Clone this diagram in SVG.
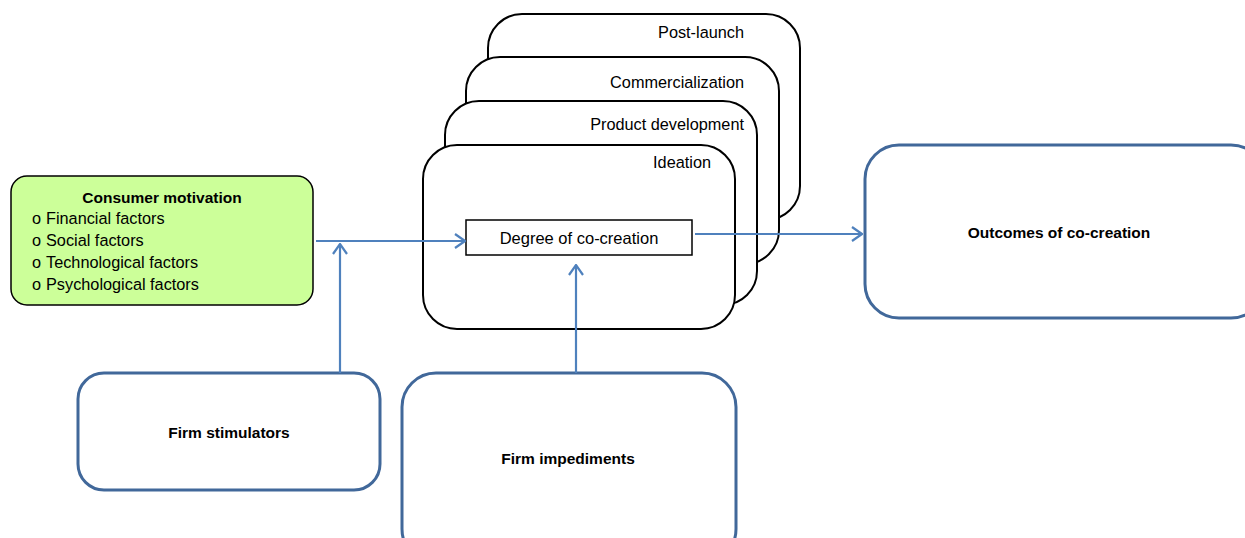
<svg xmlns="http://www.w3.org/2000/svg" width="1245" height="538" viewBox="0 0 1245 538">
<style>
text{font-family:"Liberation Sans",Arial,sans-serif;fill:#000}
.stage{fill:#fff;stroke:#000;stroke-width:2}
.blue{fill:#fff;stroke:#41689a;stroke-width:3}
.lbl{font-size:16.3px;text-anchor:end}
.bold{font-size:15.5px;font-weight:bold;text-anchor:middle}
.item{font-size:16.3px}
.conn{fill:none;stroke:#4f81bd;stroke-width:2.2}
</style>
<defs>
<marker id="arr" markerWidth="12" markerHeight="16" refX="11" refY="8" orient="auto" markerUnits="userSpaceOnUse">
<path d="M1,1 L11,8 L1,15" fill="none" stroke="#4f81bd" stroke-width="2.2"/>
</marker>
</defs>
<rect width="1245" height="538" fill="#fff"/>
<g id="post-launch">
<rect class="stage" x="488" y="14" width="312" height="206" rx="34"/>
<text class="lbl" x="744" y="38">Post-launch</text>
</g>
<g id="commercialization">
<rect class="stage" x="466" y="57" width="313" height="207" rx="34"/>
<text class="lbl" x="744" y="88">Commercialization</text>
</g>
<g id="product-development">
<rect class="stage" x="445" y="101" width="312" height="204" rx="34"/>
<text class="lbl" x="744" y="130">Product development</text>
</g>
<g id="ideation">
<rect class="stage" x="423" y="145" width="312" height="184" rx="34"/>
<text class="lbl" x="711" y="168">Ideation</text>
</g>
<g id="degree">
<rect x="466" y="220" width="226" height="35" fill="#fff" stroke="#000" stroke-width="1.5"/>
<text x="579" y="244" font-size="16.5" text-anchor="middle">Degree of co-creation</text>
</g>
<g id="consumer-motivation">
<rect x="11" y="176" width="302" height="129" rx="16" fill="#ccff99" stroke="#000" stroke-width="1.5"/>
<text class="bold" x="162" y="203">Consumer motivation</text>
<text class="item" y="224"><tspan x="32">o</tspan><tspan x="46">Financial factors</tspan></text>
<text class="item" y="246"><tspan x="32">o</tspan><tspan x="46">Social factors</tspan></text>
<text class="item" y="268"><tspan x="32">o</tspan><tspan x="46">Technological factors</tspan></text>
<text class="item" y="290"><tspan x="32">o</tspan><tspan x="46">Psychological factors</tspan></text>
</g>
<g id="outcomes">
<rect class="blue" x="865" y="145" width="400" height="173" rx="34"/>
<text class="bold" x="1059" y="238">Outcomes of co-creation</text>
</g>
<g id="firm-stimulators">
<rect class="blue" x="78" y="373" width="302" height="117" rx="26"/>
<text class="bold" x="229" y="438">Firm stimulators</text>
</g>
<g id="firm-impediments">
<rect class="blue" x="402" y="373" width="334" height="190" rx="34"/>
<text class="bold" x="568" y="464">Firm impediments</text>
</g>
<g id="connectors">
<line class="conn" x1="316" y1="241" x2="465" y2="241" marker-end="url(#arr)"/>
<line class="conn" x1="340" y1="373" x2="340" y2="244" marker-end="url(#arr)"/>
<line class="conn" x1="576" y1="373" x2="576" y2="265" marker-end="url(#arr)"/>
<line class="conn" x1="695" y1="234" x2="862" y2="234" marker-end="url(#arr)"/>
</g>
</svg>
